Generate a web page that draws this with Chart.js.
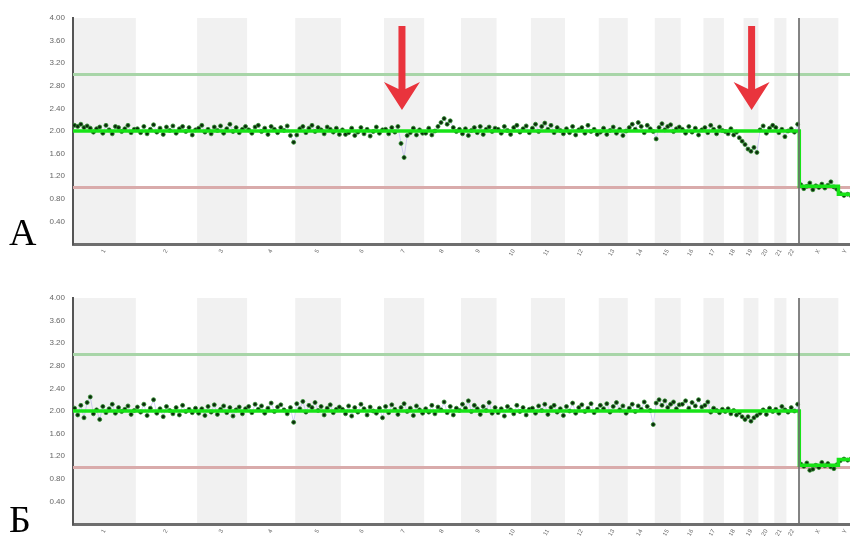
<!DOCTYPE html>
<html>
<head>
<meta charset="utf-8">
<script src="https://cdn.jsdelivr.net/npm/chart.js@4.4.1/dist/chart.umd.min.js"></script>
<style>
  html, body { margin: 0; padding: 0; width: 850px; height: 536px; overflow: hidden; background: #fff; }
  .panel { position: absolute; left: 0; width: 850px; height: 268px; }
  #wrapA { top: 0; }
  #wrapB { top: 280px; }
  .tag { position: absolute; left: 9px; font: 38px "Liberation Serif", "Times New Roman", serif; line-height: 38px; color: #000; }
</style>
</head>
<body>
<div class="panel" id="wrapA"><canvas id="chartA" width="850" height="268"></canvas></div>
<div class="panel" id="wrapB"><canvas id="chartB" width="850" height="268"></canvas></div>
<div class="tag" style="top:213px">А</div>
<div class="tag" style="top:500px">Б</div>

<script>
// chromosomes (hg19 length, Mb)
const chromNames = ['1','2','3','4','5','6','7','8','9','10','11','12','13','14','15','16','17','18','19','20','21','22','X','Y'];
const chromSizes = [249,243,198,191,181,171,159,146,141,136,135,134,115,107,103,90,81,78,59,63,48,51,155,59];
const genomeEnd = 3080;   // right edge of the visible plot, Mb

const gainLevel = 3.0;
const lossLevel = 1.0;

// copy number per probe bin, one row per chromosome — panel А
const copyA = [
  [2.10,2.08,2.12,2.06,2.09,2.05,1.98,2.04,2.07,1.96,2.10,2.02,1.95,2.08,2.06,1.99,2.04,2.10,1.97,2.03],
  [2.04,1.97,2.08,1.95,2.03,2.11,1.98,2.05,1.94,2.07,2.01,2.09,1.96,2.04,2.08,1.99,2.06,1.93,2.02],
  [2.05,2.10,1.98,2.03,1.95,2.07,2.01,2.09,1.96,2.04,2.12,1.99,2.06,1.97,2.03,2.08],
  [2.02,1.96,2.07,2.10,1.99,2.05,1.94,2.08,2.03,1.97,2.06,2.01,2.09,1.92,1.80],
  [1.93,2.04,2.08,1.97,2.05,2.10,1.99,2.06,2.02,1.95,2.07,2.03,1.98,2.05,1.94],
  [2.02,1.94,1.97,2.05,1.92,1.98,2.06,1.95,2.03,1.91,1.99,2.07,1.96,2.02],
  [2.03,1.95,2.06,1.98,2.08,1.78,1.53,1.92,1.97,2.05,1.93,2.02,1.96],
  [1.96,2.05,1.93,2.00,2.08,2.15,2.22,2.12,2.18,2.06,1.99,2.03],
  [1.95,2.04,1.92,2.01,2.06,1.97,2.08,1.94,2.03,2.07,1.99,2.05],
  [2.03,1.96,2.08,2.01,1.94,2.06,2.10,1.98,2.04,2.09,1.97],
  [2.05,2.12,1.99,2.08,2.14,2.03,2.10,1.97,2.06,2.01,1.95],
  [2.04,1.97,2.08,1.93,2.02,2.06,1.96,2.10,1.99,2.03,1.94],
  [1.98,2.05,1.94,2.01,2.07,1.96,2.03,1.92,2.00],
  [2.06,2.12,2.03,2.15,2.08,1.97,2.10,2.04,1.99],
  [1.86,2.06,2.13,2.02,2.08,2.11,1.99,2.04,2.07],
  [2.03,1.96,2.08,1.98,2.05,1.93,2.02],
  [2.06,1.97,2.10,2.03,1.95,2.07,2.01],
  [1.99,1.95,2.04,1.93,1.98,1.88,1.82],
  [1.76,1.68,1.64,1.71,1.62],
  [2.02,2.09,1.96,2.05,2.10],
  [2.06,1.97,2.03,1.90],
  [2.00,2.04,1.98,2.12],
  [1.05,0.98,1.02,1.08,0.96,1.03,1.00,1.06,0.99,1.04,1.10,1.01,0.97],
  [0.90,0.86,0.88,0.85]
];

// panel Б
const copyB = [
  [2.05,1.93,2.10,1.88,2.15,2.25,1.95,2.02,1.85,2.08,1.97,2.04,2.12,1.96,2.06,1.99,2.03,2.09,1.94,2.01],
  [2.07,1.98,2.12,1.92,2.05,2.20,1.96,2.04,1.90,2.08,2.01,1.95,2.06,1.93,2.10,1.99,2.03,1.97,2.05],
  [1.96,2.04,1.92,2.08,1.98,2.11,1.94,2.03,2.09,1.97,2.06,1.91,2.02,2.07,1.95,2.04],
  [2.08,1.97,2.12,2.03,2.09,1.96,2.05,2.14,1.99,2.07,2.11,2.02,1.95,2.06,1.80],
  [2.13,2.04,2.17,1.98,2.10,2.06,2.15,2.01,2.08,1.93,2.05,2.11,1.97,2.03,2.07],
  [2.03,1.95,2.09,1.91,2.06,1.98,2.12,2.04,1.93,2.07,2.00,1.96,2.05,1.88],
  [2.08,1.97,2.11,2.03,1.94,2.06,2.13,1.99,2.05,1.92,2.09,2.02,1.96],
  [2.04,1.98,2.10,1.95,2.07,2.02,2.16,1.97,2.08,1.93,2.05,2.01],
  [2.12,2.05,2.18,1.99,2.10,2.04,1.94,2.08,2.01,2.15,1.96,2.06],
  [1.97,2.04,1.91,2.08,2.02,1.95,2.10,1.99,2.06,1.93,2.03],
  [2.05,1.96,2.09,2.01,2.12,1.94,2.06,2.10,1.98,2.04,1.92],
  [2.08,2.00,2.14,1.96,2.06,2.11,1.99,2.05,2.13,1.97,2.03],
  [2.10,2.04,2.13,1.98,2.08,2.15,2.02,2.09,1.96],
  [2.05,2.12,1.99,2.09,2.03,2.16,2.08,2.01,1.76],
  [2.14,2.20,2.10,2.18,2.06,2.12,2.16,2.04,2.11],
  [2.12,2.18,2.05,2.15,2.09,2.20,2.07],
  [2.10,2.16,1.98,2.05,2.01,1.97,2.03],
  [1.99,2.04,1.95,2.01,1.93,1.97,1.90],
  [1.85,1.90,1.82,1.88,1.92],
  [1.96,2.02,1.94,2.05,1.99],
  [2.03,1.96,2.08,2.02],
  [1.98,2.06,2.00,2.12],
  [1.06,1.02,1.08,0.95,0.97,1.04,1.00,1.09,1.03,1.07,1.01,0.98,1.05],
  [1.12,1.15,1.13,1.16]
];

// segmentation: breakpoints (Mb) and copy number of each segment
const segBoundsA = [0, 2879, 3034, 3080];
const segLevelsA = [2.0, 1.02, 0.88];
const segBoundsB = [0, 2879, 3034, 3080];
const segLevelsB = [2.0, 1.04, 1.14];

// red arrows in panel А (genome position, Mb) and their vertical span
const arrowSitesA = [1304, 2690];
const arrowTop = 3.86;
const arrowTip = 2.37;

/* ---- helpers ---- */
const chromStarts = [];
let acc = 0;
chromSizes.forEach(s => { chromStarts.push(acc); acc += s; });
const chromCenters = chromSizes.map((s, i) => chromStarts[i] + s / 2);

function toPoints(rows) {
  const pts = [];
  rows.forEach((vals, c) => {
    vals.forEach((v, i) => {
      pts.push({ x: chromStarts[c] + (i + 0.5) / vals.length * chromSizes[c], y: v });
    });
  });
  return pts;
}

function stepLine(bounds, levels) {
  const pts = [];
  levels.forEach((lv, i) => {
    pts.push({ x: bounds[i], y: lv }, { x: bounds[i + 1], y: lv });
  });
  return pts;
}

// grey/white chromosome bands + divider between autosomes and X
const bandPlugin = {
  id: 'bands',
  beforeDraw(chart) {
    const { ctx, chartArea: a, scales: { x } } = chart;
    ctx.save();
    ctx.beginPath();
    ctx.rect(a.left, a.top, a.width, a.height);
    ctx.clip();
    chromSizes.forEach((s, i) => {
      if (i % 2) return;
      const x0 = x.getPixelForValue(chromStarts[i]);
      const x1 = x.getPixelForValue(chromStarts[i] + s);
      ctx.fillStyle = '#f1f1f1';
      ctx.fillRect(x0, a.top, x1 - x0, a.height);
    });
    ctx.restore();
  },
  afterDatasetsDraw(chart) {
    const { ctx, chartArea: a, scales: { x } } = chart;
    const xd = Math.round(x.getPixelForValue(chromStarts[22]));
    ctx.save();
    ctx.strokeStyle = 'rgba(110,110,110,0.85)';
    ctx.lineWidth = 2;
    ctx.beginPath();
    ctx.moveTo(xd, a.top);
    ctx.lineTo(xd, a.bottom);
    ctx.stroke();
    ctx.restore();
  }
};

const arrowPlugin = {
  id: 'arrows',
  afterDraw(chart) {
    const { ctx, scales: { x, y } } = chart;
    const top = y.getPixelForValue(arrowTop);
    const tip = y.getPixelForValue(arrowTip);
    ctx.save();
    ctx.fillStyle = '#e9343d';
    arrowSitesA.forEach(pos => {
      const cx = x.getPixelForValue(pos);
      ctx.beginPath();
      ctx.moveTo(cx, tip);
      ctx.lineTo(cx + 18, tip - 28);
      ctx.lineTo(cx + 3.5, tip - 21);
      ctx.lineTo(cx + 3.5, top);
      ctx.lineTo(cx - 3.5, top);
      ctx.lineTo(cx - 3.5, tip - 21);
      ctx.lineTo(cx - 18, tip - 28);
      ctx.closePath();
      ctx.fill();
    });
    ctx.restore();
  }
};

function makeChart(id, rows, bounds, levels, extra) {
  return new Chart(document.getElementById(id), {
    type: 'scatter',
    data: {
      datasets: [
        {
          label: 'segments',
          data: stepLine(bounds, levels),
          showLine: true,
          borderColor: '#17e317',
          borderWidth: 3.5,
          pointRadius: 0,
          order: 0
        },
        {
          label: 'probes',
          data: toPoints(rows),
          showLine: true,
          borderColor: 'rgba(150,140,235,0.4)',
          borderWidth: 1,
          pointRadius: 2,
          pointBackgroundColor: '#0d2b0d',
          pointBorderColor: '#2f8f2f',
          pointBorderWidth: 0.8,
          order: 1
        },
        {
          label: 'gain',
          data: [{ x: 0, y: gainLevel }, { x: genomeEnd, y: gainLevel }],
          showLine: true,
          borderColor: '#a8d5a8',
          borderWidth: 3,
          pointRadius: 0,
          order: 2
        },
        {
          label: 'loss',
          data: [{ x: 0, y: lossLevel }, { x: genomeEnd, y: lossLevel }],
          showLine: true,
          borderColor: '#d9abab',
          borderWidth: 3,
          pointRadius: 0,
          order: 2
        }
      ]
    },
    options: {
      responsive: false,
      animation: false,
      devicePixelRatio: 1,
      layout: { autoPadding: false, padding: { top: 18, left: 0, right: 0, bottom: 0 } },
      plugins: { legend: { display: false }, tooltip: { enabled: false } },
      scales: {
        x: {
          type: 'linear',
          min: 0,
          max: genomeEnd,
          grid: { display: false, drawTicks: false },
          border: { color: '#6e6e6e', width: 3 },
          afterBuildTicks: s => { s.ticks = chromCenters.map(v => ({ value: v })); },
          afterFit: s => { s.height = 24; s.paddingLeft = 0; s.paddingRight = 0; },
          ticks: {
            autoSkip: false,
            minRotation: 60,
            maxRotation: 60,
            padding: 4,
            color: '#6a6a6a',
            font: { size: 6, family: 'Arial' },
            callback: (v, i) => chromNames[i]
          }
        },
        y: {
          min: 0,
          max: 4,
          afterFit: s => { s.width = 73; },
          grid: { display: false, drawTicks: false },
          border: { color: '#555', width: 2 },
          ticks: {
            stepSize: 0.4,
            padding: 8,
            color: '#666',
            font: { size: 8, family: 'Arial' },
            callback: v => v === 0 ? '' : v.toFixed(2)
          }
        }
      }
    },
    plugins: [bandPlugin].concat(extra)
  });
}

makeChart('chartA', copyA, segBoundsA, segLevelsA, [arrowPlugin]);
makeChart('chartB', copyB, segBoundsB, segLevelsB, []);
</script>
</body>
</html>
